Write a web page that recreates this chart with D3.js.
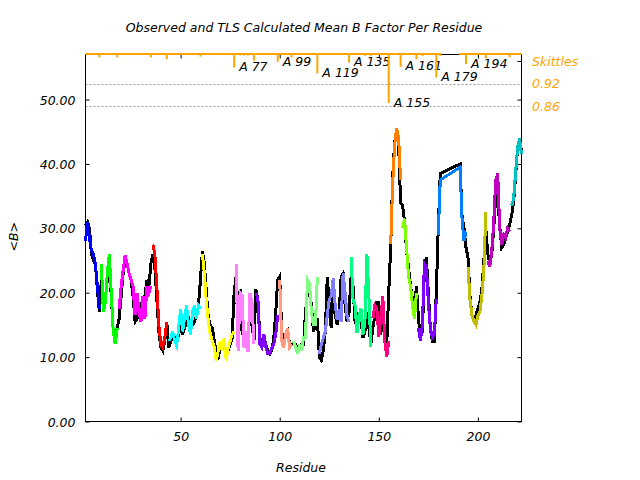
<!DOCTYPE html>
<html><head><meta charset="utf-8">
<script src="https://cdn.jsdelivr.net/npm/d3@7"></script>
<style>
html,body{margin:0;padding:0;background:#fff;}
svg{display:block;}
text{font-family:"DejaVu Sans",sans-serif;font-style:italic;font-size:12.5px;}
</style></head>
<body><svg id="c" width="640" height="480"></svg>
<script>
// ---- data ----
const title = "Observed and TLS Calculated Mean B Factor Per Residue";
const xLabel = "Residue";
const yLabel = "<B>";
const chainRuns = [[2, 181], [191, 222]];            // residues present (182-190 missing)
const observed = [
 30.5,31.0,30.0,26.0,25.0,24.5,20.5,17.0,22.0,18.0,
 19.0,22.0,24.0,19.5,14.0,13.0,14.5,16.0,19.5,23.0,
 25.0,24.5,23.0,22.0,19.5,15.5,16.0,18.5,17.0,17.5,
 19.5,22.0,21.0,24.5,26.0,24.0,19.0,14.0,11.5,11.0,
 12.5,15.5,11.5,12.5,13.0,13.0,12.5,13.5,15.0,13.5,
 14.5,15.5,16.0,14.5,15.0,15.5,16.5,18.0,22.0,26.5,
 24.5,20.0,16.0,15.0,14.5,12.5,10.5,10.0,11.5,12.0,
 12.0,10.5,11.0,12.0,13.0,20.0,22.5,13.0,20.5,14.0,
 13.0,13.0,12.0,17.5,15.0,12.5,20.5,19.0,13.0,12.0,
 13.0,12.0,11.0,10.5,11.0,13.0,17.0,22.0,22.5,14.0,
 12.0,13.5,14.0,12.0,12.0,12.0,12.0,11.0,11.5,12.0,
 12.0,17.0,20.0,20.5,18.0,14.0,15.0,16.0,10.0,9.5,
 11.0,14.0,22.5,18.0,14.5,20.0,16.5,15.0,17.0,22.5,
 23.0,18.0,15.5,17.0,22.5,21.0,15.5,15.0,17.0,16.0,
 13.0,14.0,17.0,14.5,12.0,14.5,16.5,18.5,18.5,13.5,
 17.0,13.0,12.0,20.0,27.0,38.0,43.5,44.5,43.0,34.0,
 33.5,31.0,26.5,24.0,21.0,19.0,18.0,21.0,16.0,13.0,
 14.0,23.5,25.5,20.0,14.5,12.5,12.5,20.0,30.0,38.5,
 40.0,32.0,30.0,27.0,25.5,19.5,16.5,16.0,16.5,17.5,
 18.5,20.5,25.0,30.0,26.0,24.5,26.0,30.0,35.0,34.5,
 30.5,27.0,27.5,28.5,29.5,30.5,32.0,34.0,38.0,42.5,43.5,42.0
];
const calculated = [
 28.0,30.9,28.5,26.5,26.0,24.5,21.0,17.5,24.5,17.0,
 18.5,23.0,26.0,20.0,14.0,12.0,14.5,17.5,21.0,23.5,
 25.8,24.5,23.0,22.0,21.0,16.5,20.0,17.0,15.5,19.5,
 16.0,21.0,20.0,21.0,27.5,26.0,21.0,15.0,12.0,11.5,
 13.0,15.5,12.5,13.0,14.0,12.5,11.8,14.5,17.5,14.0,
 16.0,18.0,15.0,13.5,17.0,18.0,16.0,18.0,17.5,26.0,
 23.0,18.5,15.5,13.5,12.5,11.5,9.5,11.0,12.5,11.0,
 13.0,9.5,11.5,12.5,13.5,14.0,24.5,11.0,20.0,19.5,
 11.5,14.0,10.8,20.0,18.5,12.0,20.0,19.0,12.0,11.5,
 13.5,11.5,10.5,10.5,11.5,12.0,13.5,16.5,22.0,12.5,
 11.5,13.5,14.5,11.5,12.0,12.5,11.5,10.5,12.0,11.0,
 13.0,13.0,22.0,21.5,17.0,15.0,15.0,22.5,10.5,12.0,
 13.0,14.0,16.5,19.0,19.5,22.3,18.0,15.8,17.5,15.5,
 23.0,20.0,16.3,15.5,25.5,19.0,18.0,13.8,16.5,17.5,
 13.5,15.5,26.0,19.5,11.5,16.0,18.0,17.5,13.2,16.0,
 19.5,12.5,10.0,12.5,27.5,37.0,43.0,45.5,44.0,37.5,
 30.0,31.5,27.0,22.5,21.0,18.0,16.0,20.0,14.5,12.5,
 15.0,24.5,24.0,18.5,14.5,13.0,13.5,19.0,29.0,37.5,
 39.5,31.5,28.0,29.5,24.0,19.0,16.5,15.5,15.0,16.5,
 17.0,19.5,23.5,32.5,25.0,24.0,26.5,31.0,37.5,38.5,
 30.0,27.5,29.0,28.5,30.0,29.5,33.5,34.5,38.5,42.5,44.0,41.5
];
// TLS segments
const segStart = [2,10,19,36,44,61,78,88,100,107,120,136,147,156,162,170,180,195,205,217];
const segEnd   = [9,18,35,43,60,77,87,99,106,119,135,146,155,161,169,179,194,204,216,222];
const segColor = ["#0000ff","#00ff00","#ff00ff","#ff0000","#00ffff","#ffff00","#ff80ff","#8000ff",
                  "#ff9980","#80ff80","#8080ff","#00ff80","#ff0080","#ff8000","#80ff00","#8000ff",
                  "#0080ff","#c0c000","#c000c0","#00c0c0"];
// Skittles
const skitRes = [9,18,35,43,60,77,80,82,84,87,99,106,119,135,143,146,155,161,169,172,179,181,194,204,216];
const skitVal = [0.991,0.991,0.991,0.986,0.993,0.964,0.996,0.996,0.996,0.982,0.979,0.991,0.948,0.977,
                 0.995,0.995,0.869,0.966,0.986,0.995,0.937,0.995,0.973,0.988,0.991];
const skitLabeled = [77,99,119,135,155,161,179,194];
const skitChain = "A";
const skitLevels = [0.92, 0.86];
const xTicks = [50,100,150,200];
const yTicks = [0,10,20,30,40,50];

// ---- build ----
const residues = [];
chainRuns.forEach(([a,b]) => { for (let r=a; r<=b; r++) residues.push(r); });
const pts = residues.map((r,i) => ({r, obs: observed[i], calc: calculated[i]}));

const svg = d3.select("#c");
const L = 85.5, R = 521.5, T = 54.5, B = 421.5;
const x = d3.scaleLinear().domain([2,222]).range([L, R]);
const y = d3.scaleLinear().domain([0,57]).range([B, T]);
const yS = d3.scaleLinear().domain([0.86, 1.0]).range([106.3, 54]);

// title & labels
svg.append("text").attr("x",304).attr("y",31.5).attr("text-anchor","middle").text(title);
svg.append("text").attr("x",301).attr("y",471.5).attr("text-anchor","middle").text(xLabel);
svg.append("text").attr("transform","translate(17.5,236.7) rotate(-90)").attr("text-anchor","middle").text(yLabel);

// axes (gnuplot style: inward ticks, mirrored)
const gx = svg.append("g").attr("transform",`translate(0,${B})`)
  .call(d3.axisBottom(x).tickValues(xTicks).tickSize(-4).tickPadding(8).tickFormat(d3.format("d")));
const gxt = svg.append("g").attr("transform",`translate(0,${T})`)
  .call(d3.axisTop(x).tickValues(xTicks).tickSize(-4).tickFormat(""));
const gy = svg.append("g").attr("transform",`translate(${L},0)`)
  .call(d3.axisLeft(y).tickValues(yTicks).tickSize(-4).tickPadding(10).tickFormat(d3.format(".2f")));
const gyr = svg.append("g").attr("transform",`translate(${R},0)`)
  .call(d3.axisRight(y).tickValues(yTicks).tickSize(-4).tickFormat(""));
[gx,gxt,gy,gyr].forEach(g => {
  g.select(".domain").remove();
  g.selectAll(".tick line").attr("stroke","#000");
  g.selectAll(".tick text").attr("fill","#000").style("font-size","12.5px").style("font-family","DejaVu Sans").style("font-style","italic");
});
gx.selectAll(".tick text").attr("dy","0.9em");
gy.selectAll(".tick text").attr("dy","0.36em");
// right "Skittles" tick
svg.append("line").attr("x1",R).attr("x2",R-4).attr("y1",61.5).attr("y2",61.5).attr("stroke","#000");

// skittle threshold dotted lines
skitLevels.forEach(v => {
  svg.append("line").attr("x1",L).attr("x2",R).attr("y1",Math.round(yS(v))+0.5).attr("y2",Math.round(yS(v))+0.5)
    .attr("stroke","#999").attr("stroke-dasharray","2,2");
});

// frame
svg.append("rect").attr("x",L).attr("y",T).attr("width",R-L).attr("height",B-T)
  .attr("fill","none").attr("stroke","#000");

// lines
const line = d3.line().x(d => x(d.r)).y(d => y(d.v));
svg.append("path").datum(pts.map(p => ({r:p.r, v:p.obs})))
  .attr("d", line).attr("fill","none").attr("stroke","#000").attr("stroke-width",3)
  .attr("shape-rendering","crispEdges");
segStart.forEach((s,i) => {
  const seg = pts.filter(p => p.r >= s && p.r <= segEnd[i]).map(p => ({r:p.r, v:p.calc}));
  svg.append("path").datum(seg).attr("d", line).attr("fill","none")
    .attr("stroke", segColor[i]).attr("stroke-width",3).attr("shape-rendering","crispEdges");
});

// skittles baseline
const orange = "#ffa500";
chainRuns.forEach(([a,b]) => {
  svg.append("line").attr("x1",Math.max(L,x(a-0.5))).attr("x2",Math.min(R,x(b+0.5)))
    .attr("y1",yS(1.0)).attr("y2",yS(1.0)).attr("stroke",orange).attr("stroke-width",2);
});
skitRes.forEach((r,i) => {
  svg.append("line").attr("x1",x(r)).attr("x2",x(r)).attr("y1",yS(1.0)).attr("y2",yS(skitVal[i]))
    .attr("stroke",orange).attr("stroke-width",2);
  if (skitLabeled.includes(r)) {
    svg.append("text").attr("x",x(r)+5).attr("y",yS(skitVal[i])+3.7).attr("fill","#000")
      .text(skitChain+" "+r);
  }
});
// right side labels
svg.append("text").attr("x",532).attr("y",66).attr("fill",orange).text("Skittles");
skitLevels.forEach(v => {
  svg.append("text").attr("x",532).attr("y",yS(v)+4.5).attr("fill",orange).text(v.toFixed(2));
});
</script></body></html>
